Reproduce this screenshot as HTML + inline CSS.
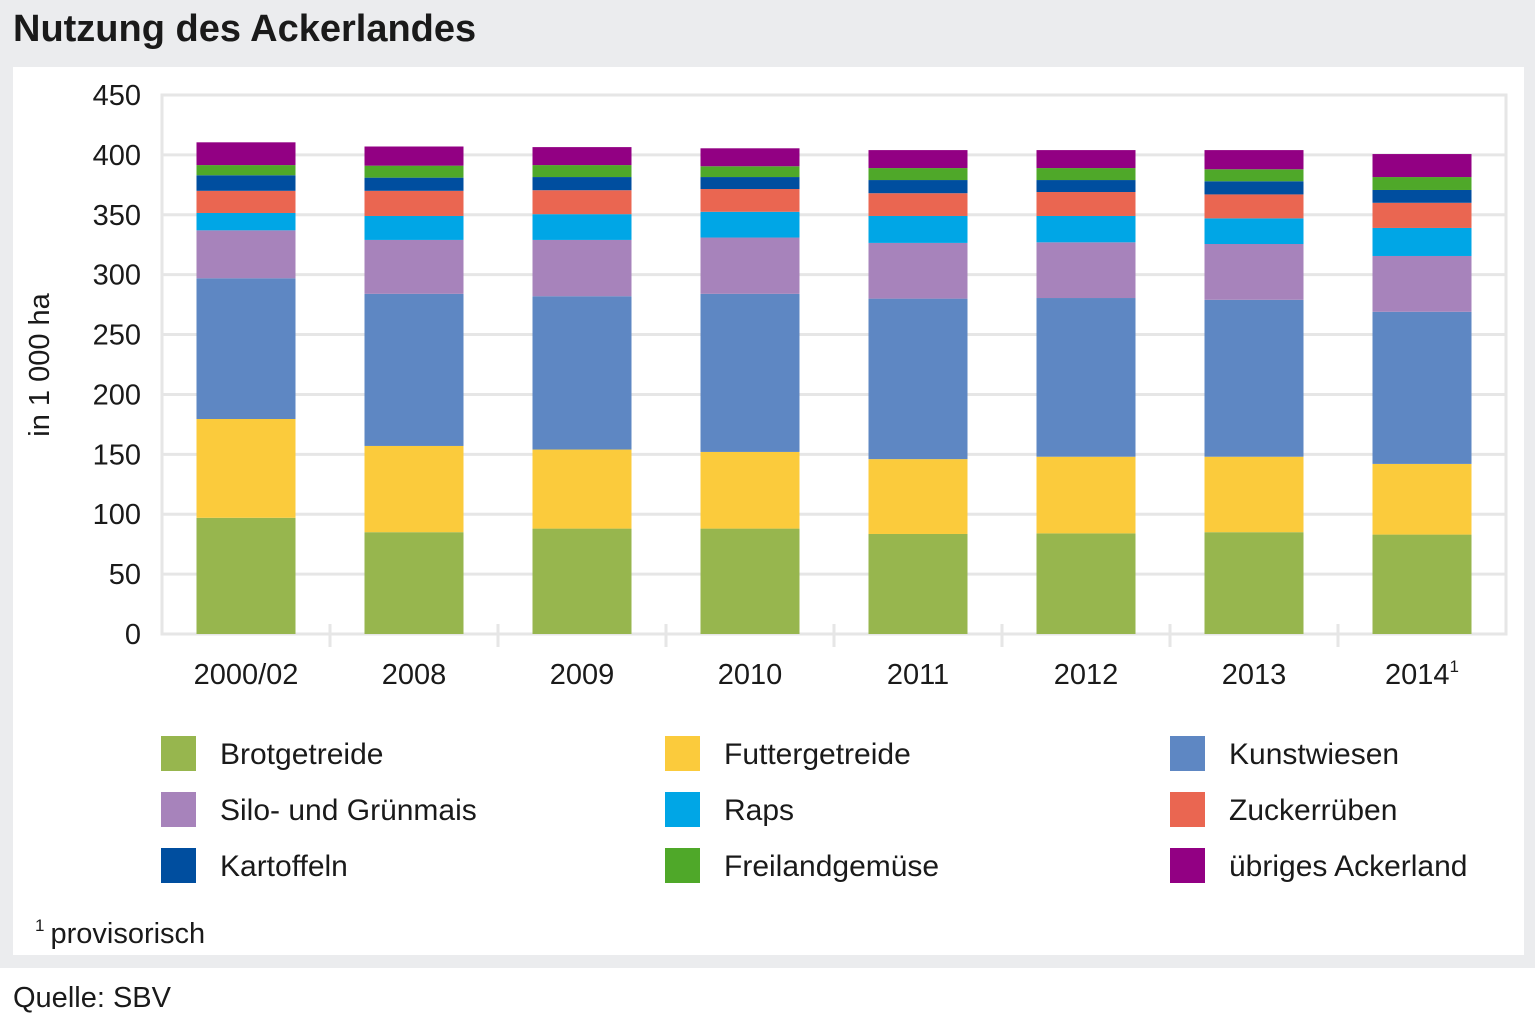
<!DOCTYPE html>
<html><head><meta charset="utf-8">
<style>
html,body{margin:0;padding:0;}
body{width:1535px;height:1023px;position:relative;background:#fff;font-family:"Liberation Sans Narrow","Liberation Sans",sans-serif;color:#1a1a1a;overflow:hidden;}
#bg{position:absolute;left:0;top:0;width:1535px;height:968px;background:#ebecee;}
#panel{position:absolute;left:13px;top:67px;width:1511px;height:888px;background:#fff;}
#title{position:absolute;left:13px;top:8px;font-size:38px;font-weight:bold;letter-spacing:0px;}
#src{position:absolute;left:13px;top:982px;font-size:29px;}
svg{position:absolute;left:0;top:0;}
</style></head><body>
<div id="bg"></div>
<div id="panel"></div>
<div id="title">Nutzung des Ackerlandes</div>
<div id="src">Quelle: SBV</div>
<svg id="chart" width="1535" height="1023"></svg>
<script>
const categories=["2000/02","2008","2009","2010","2011","2012","2013","2014"];
const seriesNames=["Brotgetreide","Futtergetreide","Kunstwiesen","Silo- und Grünmais","Raps","Zuckerrüben","Kartoffeln","Freilandgemüse","übriges Ackerland"];
const seriesColors=["#97b64e","#fbcb3c","#5e87c3","#a783bb","#00a6e6","#ea6651","#004e9f","#4fa829","#920083"];
const brot=[97,85,88,88,83.5,84,85,83];
const futter=[82.5,72,66,64,62.5,64,63,59];
const kunst=[117.5,127,128,132,134,132.5,131,127];
const silo=[40,45,47,47,46.5,46.5,46.6,46.6];
const raps=[14.5,20,21.5,21.5,22.5,22,21.4,23.4];
const zucker=[18.5,21,20,19,19,20,20,21];
const kart=[13,11,11,10,11,10,11,10.7];
const frei=[8.5,10,10,9,10,10,10,10.8];
const uebrig=[19,16,15,15,15,15,16,19.2];
const yTicks=[0,50,100,150,200,250,300,350,400,450];
const series=[brot,futter,kunst,silo,raps,zucker,kart,frei,uebrig];

const NS="http://www.w3.org/2000/svg";
const svg=document.getElementById('chart');
const X0=162,X1=1506,Y0=634,YT=95,YMAX=450;
const band=(X1-X0)/categories.length, barW=99;
const y=v=>Y0-(v/YMAX)*(Y0-YT);
const xc=i=>X0+band*(i+0.5);
function mk(tag,attrs,parent){const e=document.createElementNS(NS,tag);for(const k in attrs)e.setAttribute(k,attrs[k]);(parent||svg).appendChild(e);return e;}

yTicks.forEach(t=>{
  const l=mk('line',{x1:X0,x2:X1,y1:y(t),y2:y(t),stroke:'#e6e6e6','stroke-width':3});
  
  
  const tx=mk('text',{x:141,y:y(t)+10,'text-anchor':'end','font-size':29,fill:'#1a1a1a'});
  tx.textContent=t;
  
  
});
const fr=mk('rect',{x:X0,y:YT,width:X1-X0,height:Y0-YT,fill:'none',stroke:'#e6e6e6','stroke-width':3});


for(let i=1;i<categories.length;i++){
  const l=mk('line',{x1:X0+band*i,x2:X0+band*i,y1:Y0-10,y2:Y0+13,stroke:'#e6e6e6','stroke-width':3});
  
  
}
const yt=mk('text',{x:0,y:0,'font-size':29,'text-anchor':'middle',transform:'translate(49,365) rotate(-90)',fill:'#1a1a1a'});
yt.textContent='in 1 000 ha';



categories.forEach((c,i)=>{
  let acc=0;
  series.forEach((s,k)=>{
    const r=mk('rect',{x:xc(i)-barW/2,y:y(acc+s[i]),width:barW,height:y(acc)-y(acc+s[i]),fill:seriesColors[k]});
    
    
    acc+=s[i];
  });
  const t=mk('text',{x:xc(i),y:684,'text-anchor':'middle','font-size':29,fill:'#1a1a1a'});
  t.textContent=c;
  if(i===categories.length-1){const sp=mk('tspan',{'font-size':17,dy:-12},t);sp.textContent='1';}
  
  
});

const colX=[161,665,1170], rowY=[736,792,848];
seriesNames.forEach((n,k)=>{
  const cx=colX[k%3], ry=rowY[Math.floor(k/3)];
  const g=mk('g',{});
  
  
  mk('rect',{x:cx,y:ry,width:35,height:35,fill:seriesColors[k]},g);
  const t=mk('text',{x:cx+59,y:ry+28,'font-size':30,fill:'#1a1a1a'},g);
  t.textContent=n;
});
const fn=mk('text',{x:35,y:943,'font-size':29,fill:'#1a1a1a'});
const s1=mk('tspan',{'font-size':17,dy:-12},fn);s1.textContent='1';
const s2=mk('tspan',{dy:12,dx:6},fn);s2.textContent='provisorisch';


</script>
</body></html>
